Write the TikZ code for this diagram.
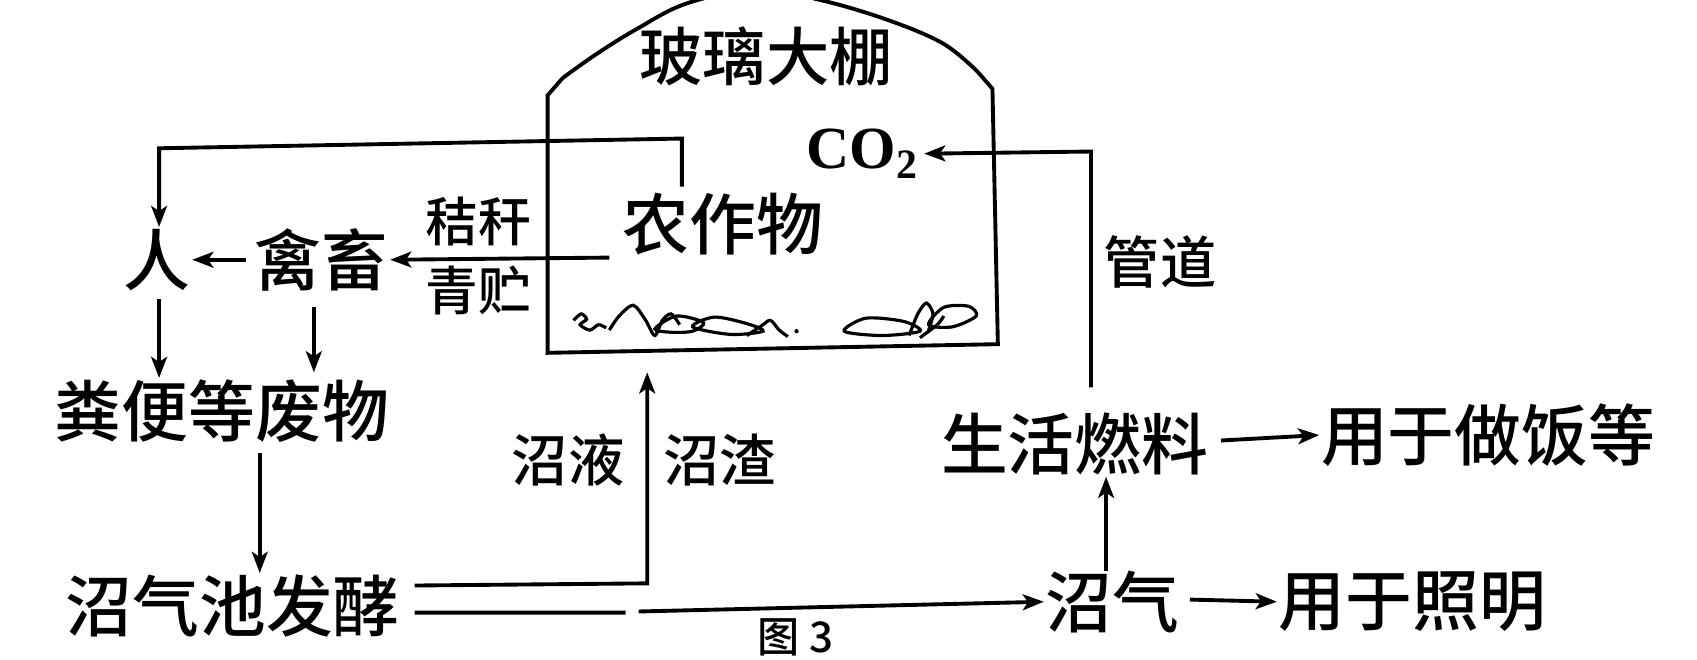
\documentclass[tikz,border=0pt]{standalone}
\usepackage{fontspec}
\setmainfont{Liberation Serif}
\newfontfamily\cjk{Noto Sans CJK SC Medium}
\usetikzlibrary{arrows.meta}
\begin{document}
\begin{tikzpicture}[x=0.010823cm,y=-0.010823cm,
  line width=1.1pt, line join=miter,
  lbl/.style={inner sep=0pt, font=\cjk\fontsize{19}{19}\selectfont},
  sml/.style={inner sep=0pt, font=\cjk\fontsize{16}{16}\selectfont},
  arr/.style={-{Stealth[length=6pt,width=4.5pt,inset=1.5pt]}}]
\useasboundingbox (0,0) rectangle (1568,609);

% greenhouse outline: walls, floor and arched roof
\draw (520,72) -- (506,88) -- (506,326) -- (922,318) -- (917,82) -- (903,66);
\draw plot[smooth, tension=0.6] coordinates {(520,72) (551,50) (588,27) (635,3) (700,-10) (758,0) (819,18) (871,40) (903,66)};

% straw and silage lying on the floor
\begin{scope}[line width=0.9pt]
\draw plot[smooth] coordinates {(530,296) (537,290) (542,295) (536,300) (545,305) (553,300) (560,303)};
\draw plot[smooth] coordinates {(563,305) (572,292) (585,282) (596,295) (605,310) (612,296) (620,290) (628,300)};
\draw plot[smooth cycle] coordinates {(605,304) (625,292) (650,298) (640,306) (620,307)};
\draw plot[smooth cycle] coordinates {(640,302) (660,293) (690,299) (705,306) (675,309)};
\draw plot[smooth] coordinates {(690,310) (705,300) (712,296) (720,305) (728,311)};
\fill (736,306) circle (2);
\draw plot[smooth cycle] coordinates {(780,306) (800,294) (835,297) (850,306) (815,310)};
\draw plot[smooth] coordinates {(840,310) (848,290) (856,280) (862,290) (858,305)};
\draw plot[smooth cycle] coordinates {(858,300) (872,284) (895,283) (902,292) (880,302)};
\draw plot[smooth] coordinates {(850,312) (866,300) (872,292)};
\end{scope}

% labels
\node[lbl, font=\cjk\fontsize{18}{18}\selectfont] (glass) at (708,52) {玻璃大棚};
\node[inner sep=1pt, font=\bfseries\fontsize{17}{17}\selectfont] (co2) at (797,142) {CO\textsubscript{2}};
\node[lbl] (crop) at (668,207) {农作物};
\node[lbl] (ren) at (145,240) {人};
\node[lbl] (chuxu) at (297,240) {禽畜};
\node[lbl] (waste) at (205,380) {粪便等废物};
\node[lbl] (pool) at (215,560) {沼气池发酵};
\node[lbl] (fuel) at (993,410) {生活燃料};
\node[lbl] (cook) at (1375,402) {用于做饭等};
\node[lbl] (gas) at (1028,556) {沼气};
\node[lbl] (light) at (1305,556) {用于照明};
\node[sml, font=\cjk\fontsize{15}{15}\selectfont] (straw) at (442,205) {秸秆};
\node[sml, font=\cjk\fontsize{15}{15}\selectfont] (silage) at (442,268) {青贮};
\node[sml] (liquid) at (525,425) {沼液};
\node[sml] (residue) at (665,425) {沼渣};
\node[sml] (pipe) at (1072,242) {管道};
\node[lbl, font=\cjk\fontsize{12}{12}\selectfont] (fig) at (735,589) {图 3};

% connectors
\coordinate (c1) at (630,128);
\coordinate (c2) at (147,137);
\draw[arr] (crop.north west -| c1) ++(0,-4) -- (c1) -- (c2) -- (ren.north -| c2);
\draw[arr] (563,238) -- (chuxu.east);
\draw[arr] (chuxu.west) ++(-6,0) -- (ren.east);
\draw[arr] (ren.south) ++(2,6) coordinate (r1) -- (r1 |- waste.north);
\draw[arr] (290,284) -- (290,344);
\draw[arr] (waste.south -| 240,0) ++(0,8) coordinate (w1) -- (w1 |- pool.north);

\coordinate (b1) at (598,539);
\draw[arr] (pool.east |- 0,541) ++(12,0) -- (b1) -- (598,344);
\draw[arr] (pool.east |- 0,566) ++(12,0) -- (578,566) (590,565) -- (gas.west);

\coordinate (p1) at (1008,358);
\coordinate (p2) at (1008,140);
\draw[arr] (p1) -- (p2) -- (co2.east);

\draw[arr] (1022,528) -- (fuel.south -| 1022,0);
\draw[arr] (fuel.east) ++(10,-3) -- (cook.west);
\draw[arr] (gas.east) ++(8,-2) -- (light.west);
\end{tikzpicture}
\end{document}
